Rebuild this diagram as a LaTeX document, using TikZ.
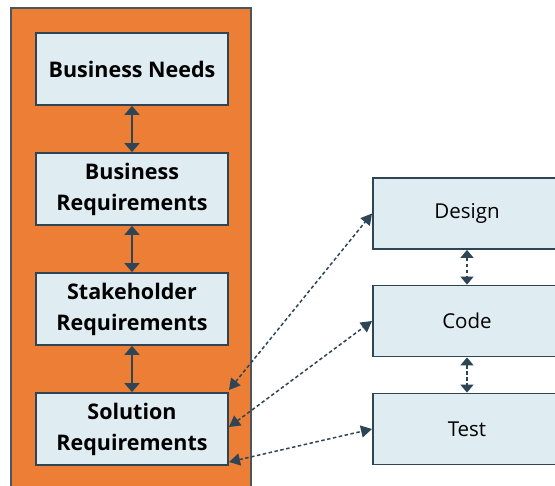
\documentclass[tikz,border=0pt]{standalone}
\usepackage{fontspec}
\setmainfont{Open Sans}
\usetikzlibrary{arrows.meta}
\definecolor{orangebg}{HTML}{EC7E35}
\definecolor{boxfill}{HTML}{DFEDF3}
\definecolor{boxline}{HTML}{2E4555}
\definecolor{frameline}{HTML}{4A5560}
\tikzset{
  x=1pt, y=1pt,
  leftbox/.style={draw=boxline, line width=1.8pt, fill=boxfill, minimum width=192pt, minimum height=72pt, align=center, font=\fontsize{21.5}{31}\selectfont\bfseries, inner sep=0pt},
  rightbox/.style={draw=boxline, line width=1.8pt, fill=boxfill, minimum width=200pt, minimum height=71pt, align=center, inner sep=0pt},
  rtext/.style={font=\fontsize{20.5}{24}\selectfont},
  solidarrow/.style={draw=boxline, line width=1.8pt, {Triangle[width=15pt,length=9pt]}-{Triangle[width=15pt,length=9pt]}},
  dotarrow/.style={draw=boxline, line width=1.5pt, dash pattern=on 3.5pt off 2.5pt, {Triangle[width=12pt,length=11pt]}-{Triangle[width=12pt,length=11pt]}},
  dotdarrow/.style={draw=boxline, line width=1.5pt, dash pattern=on 3.5pt off 2.5pt, {Triangle[width=13pt,length=8pt]}-{Triangle[width=13pt,length=8pt]}},
}
\begin{document}
\begin{tikzpicture}
\useasboundingbox (0,0) rectangle (555,-486);
\begin{scope}
\clip (0,0) rectangle (555,-486);
\fill[orangebg, draw=frameline, line width=1.5pt] (11,-8) rectangle (251,-500);
\node[leftbox] (bn) at (132,-69) {Business Needs};
\node[leftbox] (br) at (132,-189) {Business\\Requirements};
\node[leftbox] (sr) at (132,-309) {Stakeholder\\Requirements};
\node[leftbox] (sol) at (132,-429) {Solution\\Requirements};
\node[rightbox, anchor=west] (de) at (372,-213.5) {};
\node[rightbox, anchor=west] (co) at (372,-321) {};
\node[rightbox, anchor=west] (te) at (372,-429) {};
\node[rtext] (det) at (467,-213.5) {Design};
\node[rtext] (cot) at (467,-321) {Code};
\node[rtext] (tet) at (467,-429) {Test};
\draw[solidarrow] (bn.south) -- (br.north);
\draw[solidarrow] (br.south) -- (sr.north);
\draw[solidarrow] (sr.south) -- (sol.north);
\draw[dotdarrow] (de.south -| det) -- (co.north -| cot);
\draw[dotdarrow] (co.south -| cot) -- (te.north -| tet);
\coordinate (s1) at (229,-390);
\coordinate (s2) at (229,-427);
\coordinate (s3) at (229,-462);
\draw[dotarrow] (s1) -- (de.west);
\draw[dotarrow] (s2) -- (co.west);
\draw[dotarrow] (s3) -- (te.west);
\end{scope}
\end{tikzpicture}
\end{document}
